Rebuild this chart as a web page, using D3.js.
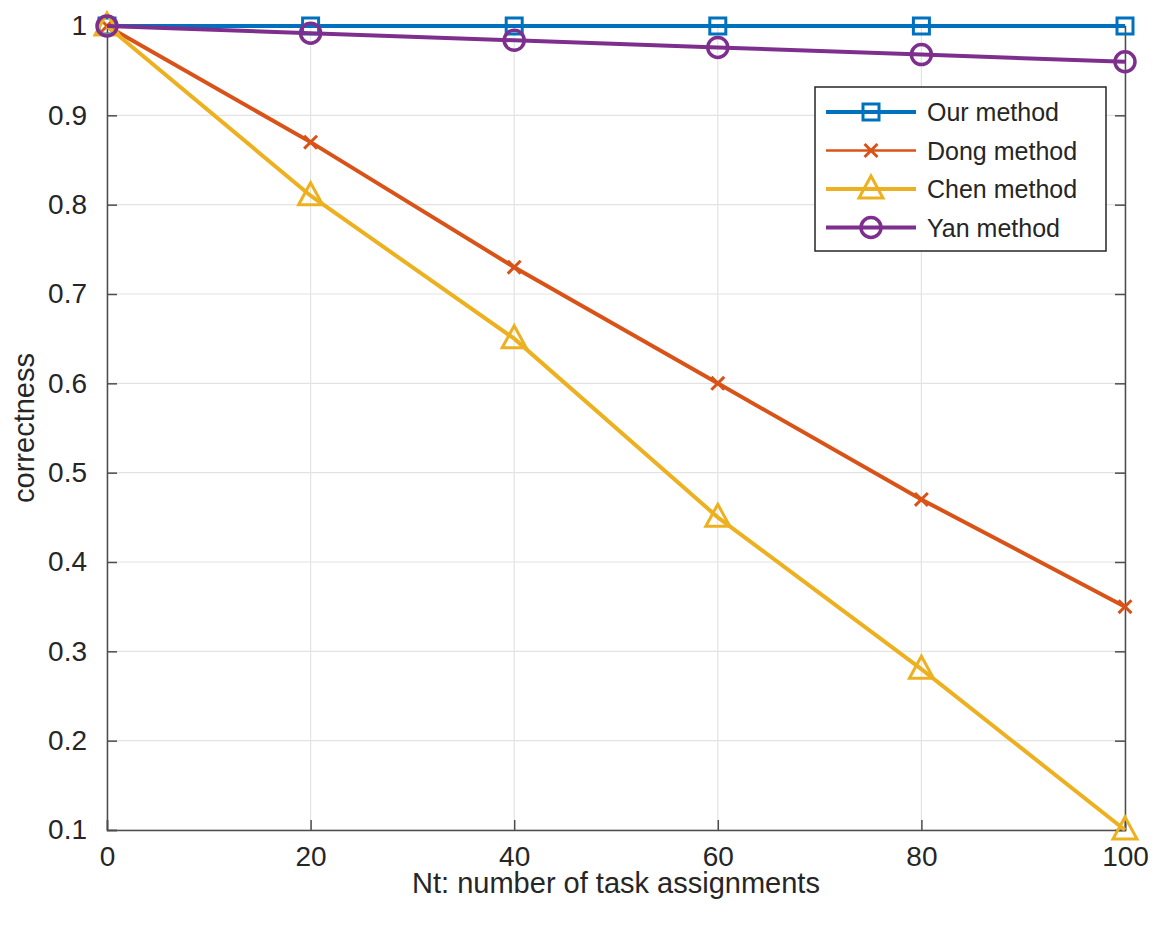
<!DOCTYPE html>
<html><head><meta charset="utf-8">
<script src="https://cdn.jsdelivr.net/npm/d3@7"></script>
<style>body{margin:0;background:#fff}text{font-family:"Liberation Sans",Arial,sans-serif;fill:#262626}</style>
</head><body>
<svg id="chart" width="1158" height="936"></svg>
<script>
var xs = [0, 20, 40, 60, 80, 100];
var ourVals = [1, 1, 1, 1, 1, 1];
var dongVals = [1, 0.87, 0.73, 0.60, 0.47, 0.35];
var chenVals = [1, 0.81, 0.65, 0.45, 0.28, 0.10];
var yanVals = [1, 0.992, 0.984, 0.976, 0.968, 0.96];
var names = ["Our method", "Dong method", "Chen method", "Yan method"];
var colors = ["#0072BD", "#D95319", "#EDB120", "#7E2F8E"];
var markers = ["square", "cross", "triangle", "circle"];
var series = [ourVals, dongVals, chenVals, yanVals];
var xTicks = [0, 20, 40, 60, 80, 100];
var yTicks = [0.1, 0.2, 0.3, 0.4, 0.5, 0.6, 0.7, 0.8, 0.9, 1];

var svg = d3.select("#chart");
var L = 107, R = 1125, T = 26, B = 830;
var x = d3.scaleLinear().domain([0, 100]).range([L, R]);
var y = d3.scaleLinear().domain([0.1, 1]).range([B, T]);

// grid
svg.append("g").selectAll("line").data(xTicks).join("line")
  .attr("x1", d => x(d)).attr("x2", d => x(d)).attr("y1", T).attr("y2", B)
  .attr("stroke", "#e3e3e3").attr("stroke-width", 1.2);
svg.append("g").selectAll("line").data(yTicks).join("line")
  .attr("y1", d => y(d)).attr("y2", d => y(d)).attr("x1", L).attr("x2", R)
  .attr("stroke", "#e3e3e3").attr("stroke-width", 1.2);

// axes
var xa = svg.append("g").attr("transform", "translate(0," + B + ")")
  .call(d3.axisBottom(x).tickValues(xTicks).tickSize(-10).tickPadding(16).tickFormat(d3.format("d")));
var ya = svg.append("g").attr("transform", "translate(" + L + ",0)")
  .call(d3.axisLeft(y).tickValues(yTicks).tickSize(-10).tickPadding(20).tickFormat(d => d === 1 ? "1" : d3.format(".1f")(d)));
svg.append("g").attr("transform", "translate(" + R + ",0)")
  .call(d3.axisRight(y).tickValues(yTicks).tickSize(-10).tickFormat(""));
[xa, ya].forEach(function(a){
  a.selectAll("text").style("font-size", "28px").attr("fill", "#262626");
});
svg.selectAll(".domain, .tick line").attr("stroke", "#4d4d4d").attr("stroke-width", 1.5);

svg.append("text").attr("x", (L + R) / 2).attr("y", 893).attr("text-anchor", "middle")
  .style("font-size", "29px").text("Nt: number of task assignments");
svg.append("text").attr("transform", "translate(34," + (T + B) / 2 + ") rotate(-90)")
  .attr("text-anchor", "middle").style("font-size", "29px").text("correctness");

function drawMarker(g, type, color, cx, cy) {
  if (type === "square") g.append("rect").attr("x", cx - 8).attr("y", cy - 8).attr("width", 16).attr("height", 16)
    .attr("fill", "none").attr("stroke", color).attr("stroke-width", 3);
  else if (type === "cross") g.append("path").attr("d", d3.symbol(d3.symbolX, 110)()).attr("transform", "translate(" + cx + "," + cy + ")")
    .attr("fill", "none").attr("stroke", color).attr("stroke-width", 3);
  else if (type === "triangle") g.append("path").attr("d", "M" + cx + "," + (cy - 13) + "L" + (cx + 12) + "," + (cy + 9) + "L" + (cx - 12) + "," + (cy + 9) + "Z")
    .attr("fill", "none").attr("stroke", color).attr("stroke-width", 3);
  else g.append("circle").attr("cx", cx).attr("cy", cy).attr("r", 10)
    .attr("fill", "none").attr("stroke", color).attr("stroke-width", 3.5);
}

var line = d3.line().x((d, i) => x(xs[i])).y(d => y(d));
series.forEach(function(vals, k) {
  var g = svg.append("g");
  g.append("path").datum(vals).attr("d", line).attr("fill", "none")
    .attr("stroke", colors[k]).attr("stroke-width", 4);
  vals.forEach(function(v, i) { drawMarker(g, markers[k], colors[k], x(xs[i]), y(v)); });
});

// legend
var lg = svg.append("g");
lg.append("rect").attr("x", 815).attr("y", 87).attr("width", 291).attr("height", 164)
  .attr("fill", "#fff").attr("stroke", "#262626").attr("stroke-width", 1.5);
names.forEach(function(n, k) {
  var ly = 112 + k * 38.5;
  lg.append("line").attr("x1", 826).attr("x2", 916).attr("y1", ly).attr("y2", ly)
    .attr("stroke", colors[k]).attr("stroke-width", k === 1 ? 2.5 : 4);
  drawMarker(lg, markers[k], colors[k], 871, ly);
  lg.append("text").attr("x", 927).attr("y", ly + 9).style("font-size", "25px").text(n);
});
</script>
</body></html>
